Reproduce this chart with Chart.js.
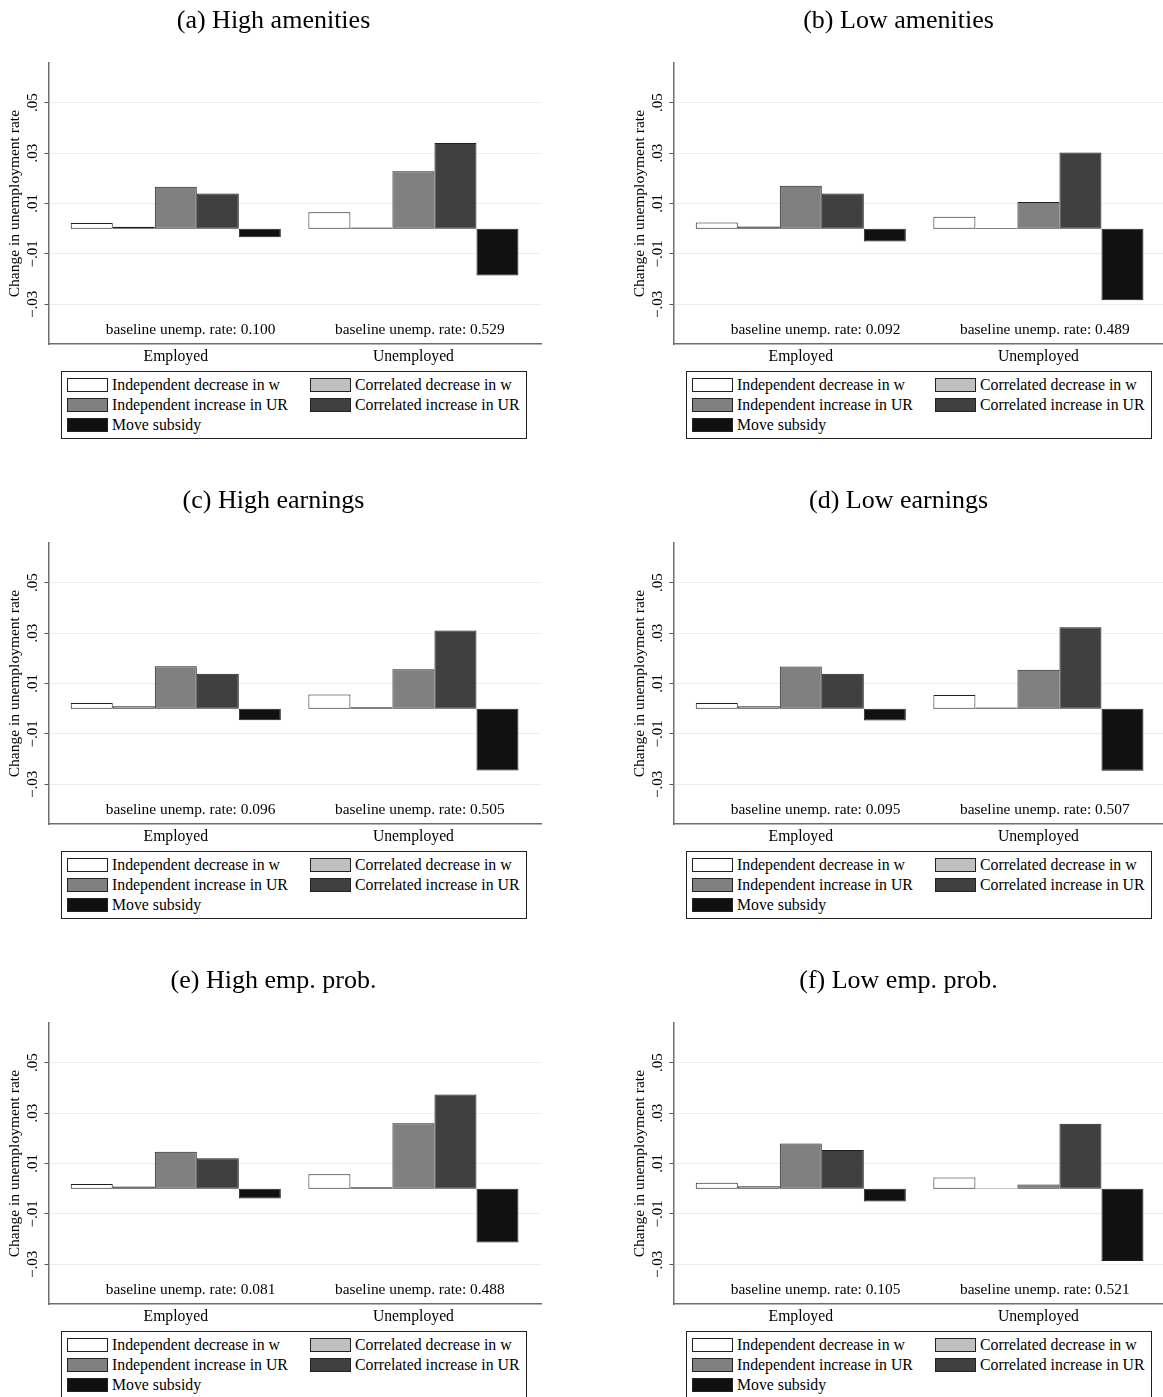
<!DOCTYPE html>
<html>
<head>
<meta charset="utf-8">
<script src="https://cdn.jsdelivr.net/npm/chart.js@4.4.1/dist/chart.umd.min.js"></script>
<style>
  body { margin: 0; width: 1163px; height: 1397px; overflow: hidden; background: #fff; }
  .panel { position: absolute; width: 560px; height: 440px; }
  .panel canvas { position: absolute; left: 0; top: 0; }
  .legend {
    position: absolute; left: 61px; top: 371px; width: 454px;
    padding: 3px 5px; border: 1px solid #222; background: #fff;
    display: grid; grid-template-columns: 243px auto;
    font-family: "Liberation Serif", serif; font-size: 15.8px; color: #000;
  }
  .legend .item { display: flex; align-items: center; height: 20px; white-space: nowrap; }
  .legend .swatch { width: 39.4px; height: 12.7px; border: 1px solid #222; margin-right: 3.6px; }
</style>
</head>
<body>
<script>
const FONT = '"Liberation Serif", serif';

const panelTitles = ['(a) High amenities', '(b) Low amenities', '(c) High earnings',
                     '(d) Low earnings', '(e) High emp. prob.', '(f) Low emp. prob.'];
const groups = ['Employed', 'Unemployed'];
const seriesNames = ['Independent decrease in w', 'Correlated decrease in w',
                     'Independent increase in UR', 'Correlated increase in UR', 'Move subsidy'];
const yTicks = [-0.03, -0.01, 0.01, 0.03, 0.05];

// one [Employed, Unemployed] pair per panel, a..f
const indepDecreaseW = [[0.0023, 0.0065], [0.0025, 0.0047], [0.0023, 0.0056],
                        [0.0023, 0.0054], [0.0019, 0.0057], [0.0024, 0.0044]];
const corrDecreaseW  = [[0.0008, 0.0005], [0.0009, 0.0003], [0.0010, 0.0006],
                        [0.0010, 0.0005], [0.0009, 0.0006], [0.0010, 0.0002]];
const indepIncreaseUR = [[0.0166, 0.0228], [0.0170, 0.0106], [0.0168, 0.0156],
                         [0.0167, 0.0154], [0.0146, 0.0259], [0.0179, 0.0017]];
const corrIncreaseUR  = [[0.0140, 0.0340], [0.0140, 0.0302], [0.0139, 0.0310],
                         [0.0139, 0.0323], [0.0121, 0.0373], [0.0153, 0.0257]];
const moveSubsidy = [[-0.0034, -0.0185], [-0.0051, -0.0284], [-0.0046, -0.0245],
                     [-0.0047, -0.0246], [-0.0039, -0.0213], [-0.0051, -0.0287]];
const baselineRates = [[0.100, 0.529], [0.092, 0.489], [0.096, 0.505],
                       [0.095, 0.507], [0.081, 0.488], [0.105, 0.521]];

const seriesValues = [indepDecreaseW, corrDecreaseW, indepIncreaseUR, corrIncreaseUR, moveSubsidy];
const seriesColors = ['#ffffff', '#c0c0c0', '#808080', '#404040', '#111111'];

const X_MIN = -0.5335, X_MAX = 1.5368;
const Y_MIN = -0.0457, Y_MAX = 0.0656;

// "baseline unemp. rate" text under each group
const baselineNotes = {
  id: 'baselineNotes',
  afterDatasetsDraw(chart, args, opts) {
    const ctx = chart.ctx;
    ctx.save();
    ctx.font = '15.4px ' + FONT;
    ctx.fillStyle = '#000';
    ctx.textAlign = 'center';
    ctx.textBaseline = 'middle';
    opts.rates.forEach((r, i) => {
      const x = chart.scales.x.getPixelForValue(opts.xPos[i]);
      const y = chart.scales.y.getPixelForValue(opts.yPos);
      ctx.fillText('baseline unemp. rate: ' + r.toFixed(3), x, y);
    });
    ctx.restore();
  }
};

// boxed two-column legend as html below the chart
const htmlLegend = {
  id: 'htmlLegend',
  afterUpdate(chart, args, opts) {
    const box = opts.container;
    box.innerHTML = '';
    const items = chart.options.plugins.legend.labels.generateLabels(chart);
    items.forEach(item => {
      const row = document.createElement('div');
      row.className = 'item';
      const sw = document.createElement('span');
      sw.className = 'swatch';
      sw.style.background = item.fillStyle;
      const txt = document.createElement('span');
      txt.textContent = item.text;
      row.appendChild(sw);
      row.appendChild(txt);
      box.appendChild(row);
    });
  }
};

function fmtTick(v) {
  return (v < 0 ? '\u2212' : '') + Math.abs(v).toFixed(2).slice(1);
}

function makePanel(p) {
  const wrap = document.createElement('div');
  wrap.className = 'panel';
  wrap.style.left = (p % 2 === 0 ? 0 : 625) + 'px';
  wrap.style.top = (Math.floor(p / 2) * 480) + 'px';
  const canvas = document.createElement('canvas');
  canvas.width = 560;
  canvas.height = 366;
  const legendBox = document.createElement('div');
  legendBox.className = 'legend';
  wrap.appendChild(canvas);
  wrap.appendChild(legendBox);
  document.body.appendChild(wrap);

  const datasets = seriesNames.map((name, s) => ({
    label: name,
    data: groups.map((g, i) => ({ x: i, y: seriesValues[s][p][i] })),
    backgroundColor: seriesColors[s],
    borderColor: '#1e1e1e',
    borderWidth: 1,
    borderSkipped: false,
    barPercentage: 1,
    categoryPercentage: 0.884
  }));

  new Chart(canvas, {
    type: 'bar',
    data: { datasets: datasets },
    plugins: [baselineNotes, htmlLegend],
    options: {
      responsive: false,
      animation: false,
      layout: { padding: { left: 6, right: 19, top: 0, bottom: 0 } },
      plugins: {
        legend: { display: false },
        tooltip: { enabled: false },
        title: {
          display: true,
          text: panelTitles[p],
          color: '#000',
          font: { family: FONT, size: 26, weight: 'normal' },
          padding: { top: 6, bottom: 26 }
        },
        baselineNotes: { rates: baselineRates[p], xPos: [0.062, 1.027], yPos: -0.0402 },
        htmlLegend: { container: legendBox }
      },
      scales: {
        x: {
          type: 'linear',
          offset: false,
          grace: 0,
          bounds: 'data',
          min: X_MIN,
          max: X_MAX,
          afterDataLimits: s => { s.min = X_MIN; s.max = X_MAX; },
          afterBuildTicks: s => { s.ticks = groups.map((g, i) => ({ value: i })); },
          afterFit: s => { s.height = 22; },
          ticks: {
            callback: v => groups[v],
            color: '#000',
            font: { family: FONT, size: 15.7 },
            padding: 3,
            autoSkip: false,
            maxRotation: 0
          },
          grid: { offset: false, drawOnChartArea: false, drawTicks: false },
          border: { display: true, color: '#6e6e6e', width: 1.5 }
        },
        y: {
          min: Y_MIN,
          max: Y_MAX,
          afterBuildTicks: s => { s.ticks = yTicks.map(v => ({ value: v })); },
          afterFit: s => { s.width = 43; },
          ticks: {
            callback: v => fmtTick(v),
            color: '#000',
            font: { family: FONT, size: 15 },
            minRotation: 90,
            maxRotation: 90,
            crossAlign: 'center',
            padding: -2.4,
            autoSkip: false
          },
          grid: { color: '#e8eff1', lineWidth: 1, tickLength: 4.5, tickColor: '#555', tickWidth: 1 },
          border: { color: '#6e6e6e', width: 1.5 },
          title: {
            display: true,
            text: 'Change in unemployment rate',
            color: '#000',
            font: { family: FONT, size: 15.5 },
            padding: { top: 0, bottom: 0 }
          }
        }
      }
    }
  });
}

for (let p = 0; p < 6; p++) makePanel(p);
</script>
</body>
</html>
